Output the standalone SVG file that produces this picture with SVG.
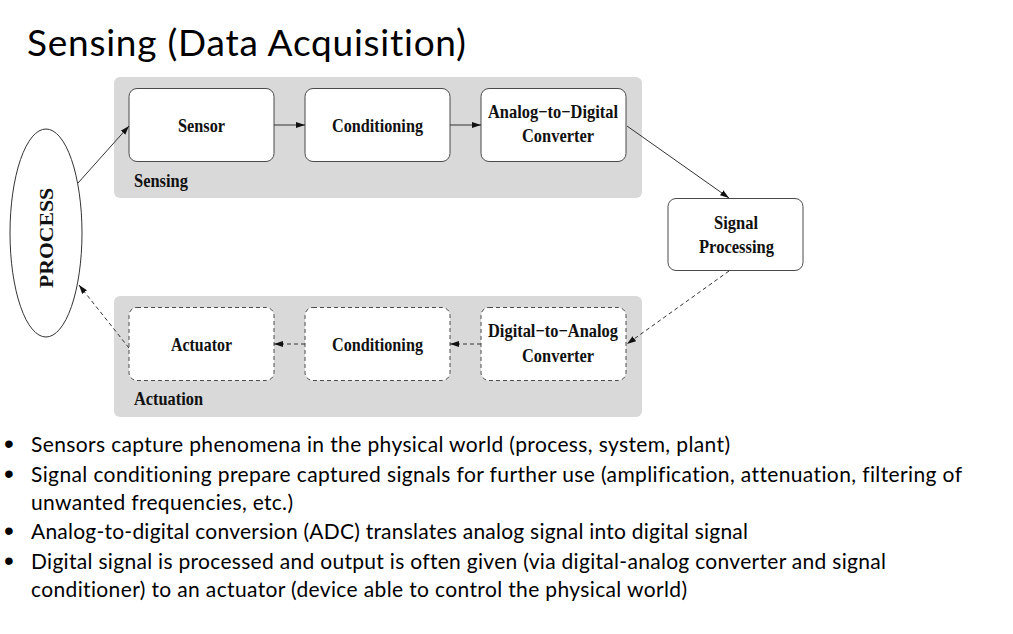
<svg xmlns="http://www.w3.org/2000/svg" width="1013" height="634" viewBox="0 0 1013 634">
<style>
.panel{fill:#d9d9d9;stroke:none}
.box{fill:#ffffff;stroke:#4a4a4a;stroke-width:1}
.dbox{fill:#ffffff;stroke:#4a4a4a;stroke-width:1;stroke-dasharray:4 3}
.lbl{font-family:"Liberation Serif","Times New Roman",serif;font-weight:bold;font-size:19px;fill:#111;text-anchor:middle}
.grp{font-family:"Liberation Serif","Times New Roman",serif;font-weight:bold;font-size:19px;fill:#111}
.edge{fill:none;stroke:#333;stroke-width:1}
.dedge{fill:none;stroke:#333;stroke-width:1;stroke-dasharray:4 3}
.title{font-family:Lato,"Open Sans",sans-serif;font-size:37px;fill:#000;font-variant-ligatures:none;font-feature-settings:"liga" 0,"dlig" 0}
.bul{font-family:Lato,"Open Sans",sans-serif;font-size:21px;fill:#000;font-variant-ligatures:none;font-feature-settings:"liga" 0,"dlig" 0}
.dot{font-family:"Liberation Sans",Arial,sans-serif;font-size:28px;fill:#000}
</style>
<defs>
<marker id="ah" markerUnits="userSpaceOnUse" markerWidth="10" markerHeight="8" refX="9" refY="4" orient="auto">
<path d="M0,1 L9,4 L0,7 z" fill="#111"/>
</marker>
</defs>
<rect width="1013" height="634" fill="#ffffff"/>
<text class="title" x="27" y="56" textLength="439">Sensing (Data Acquisition)</text>

<g id="sensing-panel">
<rect class="panel" x="114" y="77" width="528" height="121" rx="6"/>
<text class="grp" x="134" y="187" textLength="54" lengthAdjust="spacingAndGlyphs">Sensing</text>
</g>
<g id="actuation-panel">
<rect class="panel" x="114" y="296" width="528" height="121" rx="6"/>
<text class="grp" x="134" y="405" textLength="69" lengthAdjust="spacingAndGlyphs">Actuation</text>
</g>

<g id="process">
<ellipse cx="46" cy="233" rx="36" ry="104" fill="#fff" stroke="#333" stroke-width="1"/>
<text class="lbl" transform="translate(53,238) rotate(-90)" x="0" y="0" font-size="18" textLength="100" lengthAdjust="spacingAndGlyphs">PROCESS</text>
</g>
<g id="sensor">
<rect class="box" x="129" y="88.5" width="145" height="73" rx="8"/>
<text class="lbl" x="201.5" y="132" textLength="47" lengthAdjust="spacingAndGlyphs">Sensor</text>
</g>
<g id="conditioning-in">
<rect class="box" x="305" y="88.5" width="145" height="73" rx="8"/>
<text class="lbl" x="377.5" y="132" textLength="91" lengthAdjust="spacingAndGlyphs">Conditioning</text>
</g>
<g id="adc">
<rect class="box" x="481" y="88.5" width="145" height="73" rx="8"/>
<text class="lbl" x="553" y="118" textLength="130" lengthAdjust="spacingAndGlyphs">Analog−to−Digital</text>
<text class="lbl" x="558" y="142" textLength="72" lengthAdjust="spacingAndGlyphs">Converter</text>
</g>
<g id="signal-processing">
<rect class="box" x="668" y="198.5" width="135" height="72" rx="8"/>
<text class="lbl" x="736" y="229" textLength="44" lengthAdjust="spacingAndGlyphs">Signal</text>
<text class="lbl" x="736.5" y="253" textLength="75" lengthAdjust="spacingAndGlyphs">Processing</text>
</g>
<g id="dac">
<rect class="dbox" x="481" y="307.5" width="145" height="73" rx="8"/>
<text class="lbl" x="553" y="337" textLength="130" lengthAdjust="spacingAndGlyphs">Digital−to−Analog</text>
<text class="lbl" x="558" y="362" textLength="72" lengthAdjust="spacingAndGlyphs">Converter</text>
</g>
<g id="conditioning-out">
<rect class="dbox" x="305" y="307.5" width="145" height="73" rx="8"/>
<text class="lbl" x="377.5" y="351" textLength="91" lengthAdjust="spacingAndGlyphs">Conditioning</text>
</g>
<g id="actuator">
<rect class="dbox" x="129" y="307.5" width="145" height="73" rx="8"/>
<text class="lbl" x="201.5" y="351" textLength="61" lengthAdjust="spacingAndGlyphs">Actuator</text>
</g>

<g id="connectors">
<path class="edge" d="M78,183 L129,126" marker-end="url(#ah)"/>
<path class="edge" d="M274,125 L305,125" marker-end="url(#ah)"/>
<path class="edge" d="M450,125 L481,125" marker-end="url(#ah)"/>
<path class="edge" d="M627,126 L729,198" marker-end="url(#ah)"/>
<path class="dedge" d="M729,271 L627,344" marker-end="url(#ah)"/>
<path class="dedge" d="M481,344 L450,344" marker-end="url(#ah)"/>
<path class="dedge" d="M305,344 L274,344" marker-end="url(#ah)"/>
<path class="dedge" d="M129,348 L79,285" marker-end="url(#ah)"/>
</g>

<g id="bullets">
<text class="dot" x="4" y="453">•</text>
<text class="bul" x="31" y="452" textLength="699">Sensors capture phenomena in the physical world (process, system, plant)</text>
<text class="dot" x="4" y="483">•</text>
<text class="bul" x="31" y="482" textLength="931">Signal conditioning prepare captured signals for further use (amplification, attenuation, filtering of</text>
<text class="bul" x="31" y="510" textLength="262">unwanted frequencies, etc.)</text>
<text class="dot" x="4" y="540">•</text>
<text class="bul" x="31" y="539" textLength="717">Analog-to-digital conversion (ADC) translates analog signal into digital signal</text>
<text class="dot" x="4" y="570">•</text>
<text class="bul" x="31" y="569" textLength="855">Digital signal is processed and output is often given (via digital-analog converter and signal</text>
<text class="bul" x="31" y="597" textLength="656">conditioner) to an actuator (device able to control the physical world)</text>
</g>
</svg>
